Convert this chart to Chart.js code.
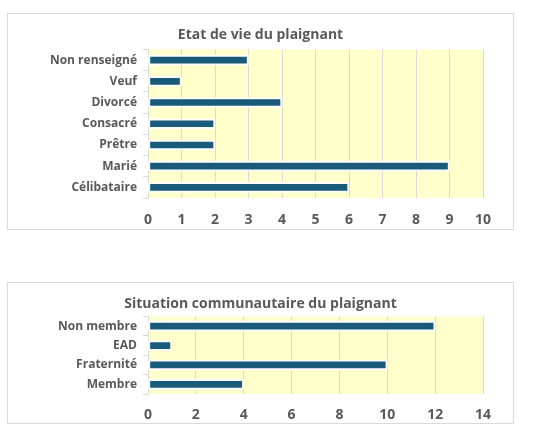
<!DOCTYPE html>
<html lang="fr">
<head>
<meta charset="UTF-8">
<title>Plaignants</title>
<script src="https://cdn.jsdelivr.net/npm/chart.js"></script>
<style>
    body {
        margin: 0;
        background: #ffffff;
        width: 546px;
        height: 431px;
        position: relative;
        overflow: hidden;
    }
    .chart-box {
        position: absolute;
        left: 7px;
        width: 507px;
        border: 1px solid #d9d9d9;
        box-sizing: border-box;
        background: #ffffff;
    }
    #box1 { top: 13px; height: 217px; }
    #box2 { top: 282px; height: 142px; }
</style>
</head>
<body>
<div class="chart-box" id="box1"><canvas id="etatChart"></canvas></div>
<div class="chart-box" id="box2"><canvas id="situationChart"></canvas></div>

<script>
    // données
    const etatLabels = ['Non renseigné', 'Veuf', 'Divorcé', 'Consacré', 'Prêtre', 'Marié', 'Célibataire'];
    const etatValues = [3, 1, 4, 2, 2, 9, 6];
    const etatTicks = [0, 1, 2, 3, 4, 5, 6, 7, 8, 9, 10];

    const situationLabels = ['Non membre', 'EAD', 'Fraternité', 'Membre'];
    const situationValues = [12, 1, 10, 4];
    const situationTicks = [0, 2, 4, 6, 8, 10, 12, 14];

    const FONT = '"Open Sans", sans-serif';
    const GREY = '#595959';

    // fond jaune de la zone de tracé
    const plotBg = {
        id: 'plotBg',
        beforeDraw(chart) {
            const a = chart.chartArea;
            const ctx = chart.ctx;
            ctx.save();
            ctx.fillStyle = '#ffffcc';
            ctx.fillRect(a.left, a.top, a.right - a.left, a.bottom - a.top);
            ctx.restore();
        }
    };

    const makeChart = (id, title, labels, values, ticks, opts) => new Chart(document.getElementById(id), {
        type: 'bar',
        data: {
            labels: labels,
            datasets: [{
                data: values,
                backgroundColor: '#1a5a7a',
                borderColor: '#ffffff',
                borderWidth: 2,
                borderSkipped: false,
                barThickness: 10
            }]
        },
        options: {
            indexAxis: 'y',
            responsive: true,
            maintainAspectRatio: false,
            animation: false,
            // même marge des deux côtés pour que le titre soit centré sur le cadre
            layout: { padding: { left: 30, right: 30, bottom: 0, top: 0 } },
            plugins: {
                legend: { display: false },
                tooltip: { enabled: false },
                title: {
                    display: true,
                    text: title,
                    color: GREY,
                    font: { family: FONT, size: 14, weight: 'bold', lineHeight: 1.25 },
                    padding: opts.titlePad
                }
            },
            scales: {
                x: {
                    min: ticks[0],
                    max: ticks[ticks.length - 1],
                    afterBuildTicks(axis) {
                        axis.ticks = ticks.map(v => ({ value: v }));
                    },
                    afterFit(axis) { axis.height = opts.xHeight; },
                    grid: { color: '#d9d9d9', drawTicks: false },
                    border: { display: false },
                    ticks: {
                        color: GREY,
                        padding: opts.xPad,
                        font: { family: FONT, size: 14, weight: 'bold' }
                    }
                },
                y: {
                    afterFit(axis) { axis.width = 110; },
                    grid: { drawOnChartArea: false, color: '#d9d9d9', tickLength: 5, offset: true },
                    border: { display: true, color: '#d9d9d9' },
                    ticks: {
                        color: GREY,
                        padding: 6,
                        font: { family: FONT, size: 12, weight: 'bold' }
                    }
                }
            }
        },
        plugins: [plotBg]
    });

    const etatChart = makeChart('etatChart', 'Etat de vie du plaignant',
        etatLabels, etatValues, etatTicks,
        { titlePad: { top: 12, bottom: 6 }, xHeight: 31, xPad: 14 });

    const situationChart = makeChart('situationChart', 'Situation communautaire du plaignant',
        situationLabels, situationValues, situationTicks,
        { titlePad: { top: 12, bottom: 4 }, xHeight: 29, xPad: 13 });
</script>
</body>
</html>
